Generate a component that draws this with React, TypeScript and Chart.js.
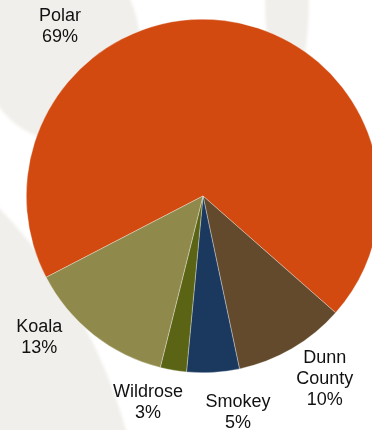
import React, { useEffect, useRef } from "react";
import { Chart, registerables } from "chart.js";

Chart.register(...registerables);

const categories = ["Polar", "Dunn County", "Smokey", "Wildrose", "Koala"];
const shares = [69.1, 10.2, 4.8, 2.4, 13.5];
const shareLabels = ["69%", "10%", "5%", "3%", "13%"];
const sliceColors = ["#D24A10", "#644A2C", "#1B385E", "#5B6415", "#8F8A4B"];
// label anchor placement: angle (deg clockwise from 12 o'clock) and radial factor
const labelAngles = [319.8, 146.4, 170.8, 194.9, 229.2];
const labelRadial = [1.253, 1.245, 1.24, 1.21, 1.224];

const labelPlugin = {
  id: "outerLabels",
  afterDatasetsDraw(chart: any) {
    const ctx = chart.ctx;
    const meta = chart.getDatasetMeta(0);
    ctx.save();
    ctx.font = "18px 'Liberation Sans', Arial, sans-serif";
    ctx.fillStyle = "#111111";
    ctx.textAlign = "center";
    ctx.textBaseline = "middle";
    const lh = 21;
    meta.data.forEach((arc: any, i: number) => {
      const { x, y, outerRadius } = arc.getProps(["x", "y", "outerRadius"], true);
      const a = ((labelAngles[i] - 90) * Math.PI) / 180;
      const px = x + Math.cos(a) * outerRadius * labelRadial[i];
      const py = y + Math.sin(a) * outerRadius * labelRadial[i];
      const lines = [...categories[i].split(" "), shareLabels[i]];
      const top = py - ((lines.length - 1) * lh) / 2;
      lines.forEach((t, k) => ctx.fillText(t, px, top + k * lh));
    });
    ctx.restore();
  },
};

export default function App() {
  const ref = useRef<HTMLCanvasElement | null>(null);
  useEffect(() => {
    if (!ref.current) return;
    const chart = new Chart(ref.current, {
      type: "pie",
      data: {
        labels: categories,
        datasets: [
          {
            data: shares,
            backgroundColor: sliceColors,
            borderColor: "rgba(255,255,255,0.55)",
            borderWidth: 0.6,
          },
        ],
      },
      options: {
        animation: false,
        responsive: false,
        devicePixelRatio: 1,
        rotation: 242.6,
        layout: { padding: { left: 26, right: 20, top: 19, bottom: 57 } },
        plugins: { legend: { display: false }, tooltip: { enabled: false } },
      },
      plugins: [labelPlugin],
    });
    return () => chart.destroy();
  }, []);

  return (
    <div
      style={{
        position: "fixed",
        left: 0,
        top: 0,
        width: 372,
        height: 430,
        overflow: "hidden",
        background: "#ffffff",
      }}
    >
      <svg
        width={372}
        height={430}
        style={{ position: "absolute", left: 0, top: 0 }}
      >
        <defs>
          <filter id="soft" x="-20%" y="-20%" width="140%" height="140%">
            <feGaussianBlur stdDeviation="1.5" />
          </filter>
        </defs>
        <g fill="#F0EFEB" filter="url(#soft)">
          <ellipse cx={60} cy={45} rx={80} ry={95} />
          <circle cx={-377} cy={570} r={522} />
          <ellipse cx={287} cy={0} rx={22} ry={90} />
        </g>
      </svg>
      <canvas
        ref={ref}
        width={400}
        height={430}
        style={{ position: "absolute", left: 0, top: 0, width: 400, height: 430 }}
      />
    </div>
  );
}
